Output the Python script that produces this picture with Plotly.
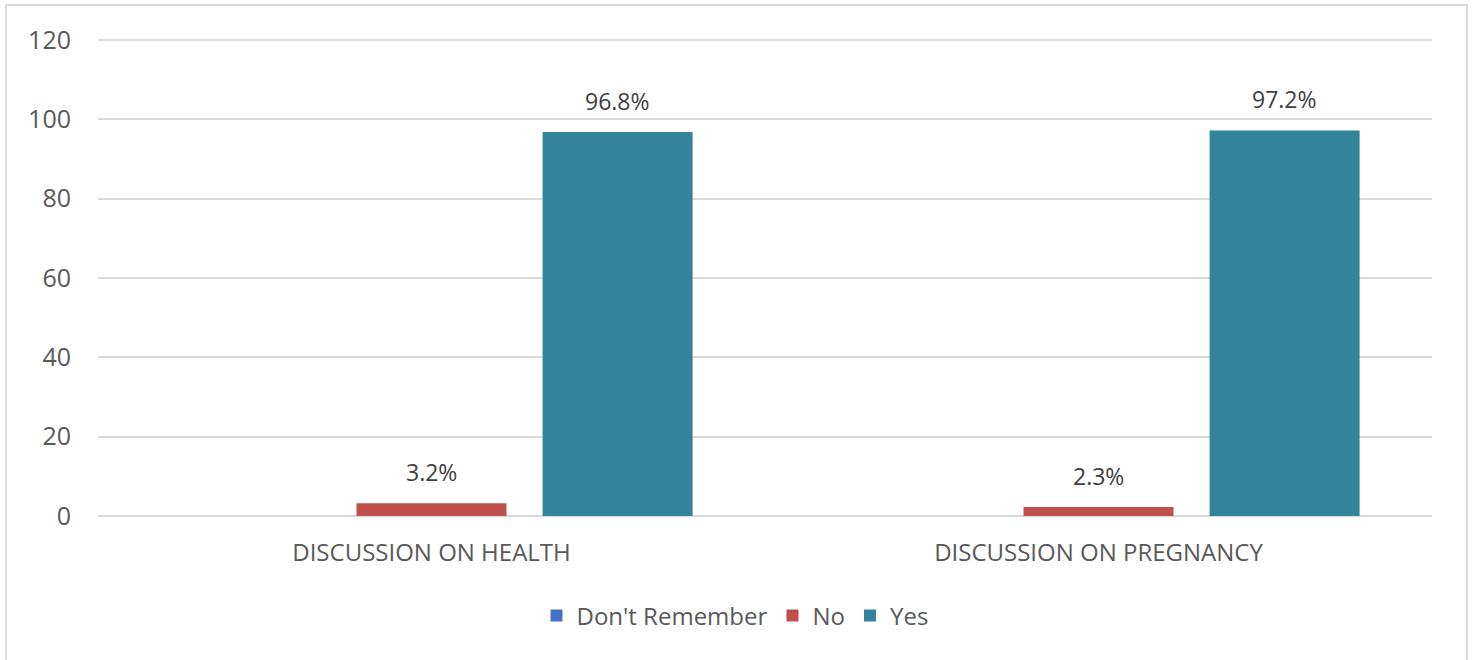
import plotly.graph_objects as go

categories = ["DISCUSSION ON HEALTH", "DISCUSSION ON PREGNANCY"]
series_names = ["Don't Remember", "No", "Yes"]
dont_remember = [0, 0]
no_vals = [3.2, 2.3]
yes_vals = [96.8, 97.2]
y_ticks = [0, 20, 40, 60, 80, 100, 120]

colors = ["#4472C4", "#C0504D", "#31849B"]
values = [dont_remember, no_vals, yes_vals]

FONT = "Open Sans"
GREY = "#595959"

W, H = 1473, 660
YMAX = 121
L, R, B = 98, 1432, 516
TOP120 = 40
ph = (B - TOP120) * YMAX / 120
T = B - ph
pw = R - L
BARGAP, GROUPGAP = 0.163, 0.194
slot = pw / len(categories) * (1 - BARGAP) / len(series_names)

fig = go.Figure()
annotations = []
for i, (name, vals, col) in enumerate(zip(series_names, values, colors)):
    fig.add_trace(go.Bar(
        x=categories, y=vals, name=name,
        marker=dict(color=col, line=dict(width=0)),
    ))
    for cat, v in zip(categories, vals):
        if v > 0:
            annotations.append(dict(
                x=cat, y=v, xref="x", yref="y", text=f"{v}%",
                showarrow=False, xshift=(i - 1) * slot, yshift=31,
                yanchor="middle",
                font=dict(family=FONT, size=23, color="#404040"),
            ))

fig.update_layout(
    width=W, height=H,
    margin=dict(l=L, r=W - R, t=T, b=H - B),
    paper_bgcolor="white", plot_bgcolor="white",
    barmode="group", bargap=BARGAP, bargroupgap=GROUPGAP,
    font=dict(family=FONT, color=GREY, size=24),
    showlegend=True,
    legend=dict(orientation="h", x=0.5 - 30 / pw, xanchor="center",
                y=(B - 616) / ph, yanchor="middle",
                font=dict(family=FONT, size=24, color=GREY),
                itemwidth=30, traceorder="normal"),
    xaxis=dict(showgrid=False, showline=False, ticks="",
               ticklabelstandoff=20,
               tickfont=dict(family=FONT, size=24, color=GREY)),
    yaxis=dict(range=[0, YMAX], tickvals=y_ticks, showgrid=True,
               gridcolor="#D9D9D9", gridwidth=1.5, zeroline=True,
               zerolinecolor="#D9D9D9", zerolinewidth=1.5, showline=False,
               ticks="", ticklabelstandoff=26,
               tickfont=dict(family=FONT, size=25, color=GREY)),
    annotations=annotations,
    shapes=[dict(type="rect", xref="paper", yref="paper",
                 x0=(6 - L) / pw, x1=(1467 - L) / pw,
                 y0=(B - 665) / ph, y1=(B - 5) / ph,
                 line=dict(color="#D9D9D9", width=2), fillcolor="rgba(0,0,0,0)",
                 layer="below")],
)

fig.write_html("out.html")
